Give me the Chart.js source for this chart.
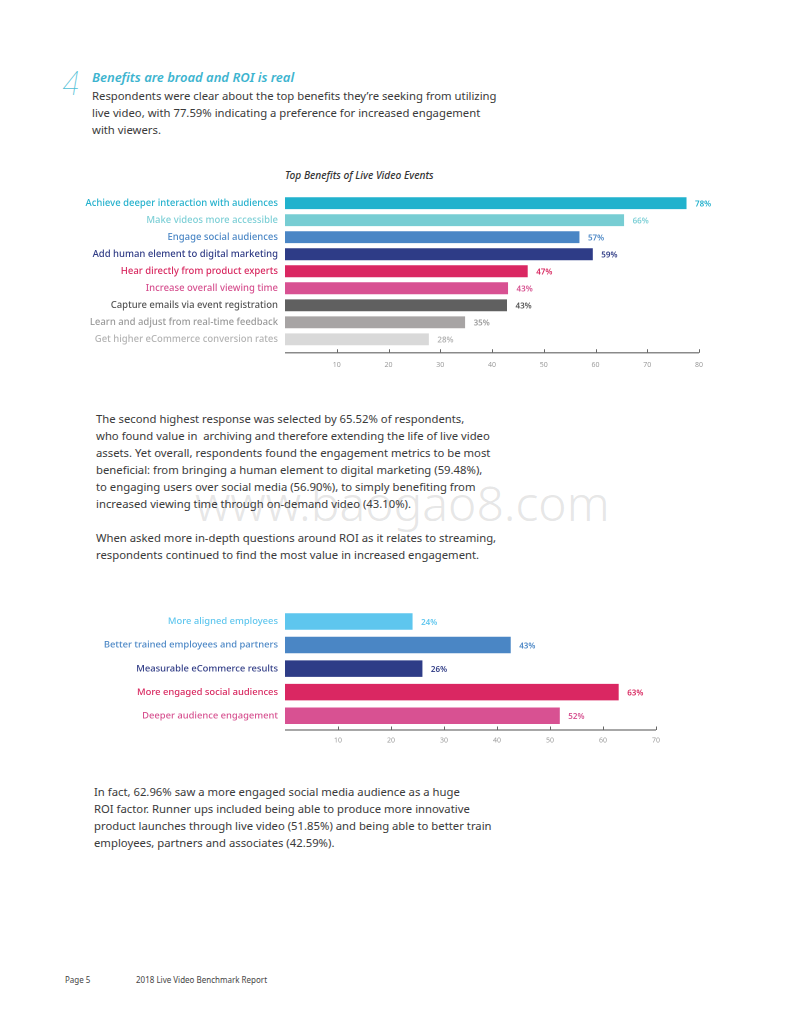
<!DOCTYPE html>
<html>
<head>
<meta charset="utf-8">
<script src="https://cdn.jsdelivr.net/npm/chart.js@4/dist/chart.umd.min.js"></script>
<style>
  html, body { margin:0; padding:0; background:#fff; }
  body { width:800px; height:1036px; position:relative; overflow:hidden; font-family:"Noto Sans", sans-serif; color:#3a3a3a; }
  .abs { position:absolute; white-space:pre; }
  .body { font-size:11.3px; line-height:17px; color:#3a3a3a; }
  canvas { position:absolute; }
</style>
</head>
<body>
<div class="abs" style="left:61px;top:64px;font-size:33px;font-weight:100;font-style:italic;color:#4fc0d6;font-family:'Inter','Lato',sans-serif;line-height:38px;">4</div>
<div class="abs" style="left:92px;top:68px;font-size:13px;font-weight:600;font-style:italic;color:#3db4cf;line-height:18px;">Benefits are broad and ROI is real</div>
<div class="abs body" style="left:92px;top:87px;">Respondents were clear about the top benefits they’re seeking from utilizing
live video, with 77.59% indicating a preference for increased engagement
with viewers.</div>

<div class="abs" style="left:285px;top:168px;font-size:10.2px;font-weight:500;font-style:italic;color:#333;line-height:14px;">Top Benefits of Live Video Events</div>

<canvas id="c1" style="left:60px;top:180px;width:680px;height:200px;"></canvas>

<div class="abs" style="left:195px;top:471px;font-size:48px;font-weight:300;color:rgba(170,170,170,0.3);line-height:63px;">www.baogao8.com</div>

<div class="abs body" style="left:96px;top:410px;">The second highest response was selected by 65.52% of respondents,
who found value in  archiving and therefore extending the life of live video
assets. Yet overall, respondents found the engagement metrics to be most
beneficial: from bringing a human element to digital marketing (59.48%),
to engaging users over social media (56.90%), to simply benefiting from
increased viewing time through on-demand video (43.10%).

When asked more in-depth questions around ROI as it relates to streaming,
respondents continued to find the most value in increased engagement.</div>

<canvas id="c2" style="left:60px;top:590px;width:680px;height:170px;"></canvas>

<div class="abs body" style="left:94px;top:783px;">In fact, 62.96% saw a more engaged social media audience as a huge
ROI factor. Runner ups included being able to produce more innovative
product launches through live video (51.85%) and being able to better train
employees, partners and associates (42.59%).</div>

<div class="abs" style="left:65px;top:974px;font-size:8px;color:#444;line-height:12px;">Page 5</div>
<div class="abs" style="left:136px;top:974px;font-size:8px;color:#444;line-height:12px;">2018 Live Video Benchmark Report</div>

<script>
// ---- Chart 1 data ----
const benefitCategories = [
  'Achieve deeper interaction with audiences',
  'Make videos more accessible',
  'Engage social audiences',
  'Add human element to digital marketing',
  'Hear directly from product experts',
  'Increase overall viewing time',
  'Capture emails via event registration',
  'Learn and adjust from real-time feedback',
  'Get higher eCommerce conversion rates'
];
const benefitValues = [77.59, 65.52, 56.90, 59.48, 46.90, 43.10, 42.90, 34.80, 27.80];
const benefitTicks = [10, 20, 30, 40, 50, 60, 70, 80];
const benefitBarColors = ['#21b2cd', '#77cdd3', '#4a86c5', '#2e3c87', '#da2762', '#d85192', '#606060', '#a7a4a4', '#d9d9d9'];
const benefitLabelColors = ['#22b0cc', '#7ccfd6', '#4a86c5', '#2f3b85', '#d8275f', '#d6508f', '#555555', '#999999', '#b3b3b3'];

// ---- Chart 2 data ----
const roiCategories = [
  'More aligned employees',
  'Better trained employees and partners',
  'Measurable eCommerce results',
  'More engaged social audiences',
  'Deeper audience engagement'
];
const roiValues = [24.07, 42.59, 25.93, 62.96, 51.85];
const roiTicks = [10, 20, 30, 40, 50, 60, 70];
const roiBarColors = ['#5ec6ee', '#4a86c5', '#2e3c87', '#da2762', '#d85192'];
const roiLabelColors = ['#5ec6ee', '#4a86c5', '#2f3b85', '#d8275f', '#d6508f'];

const FONT = '"Noto Sans", sans-serif';

const valueLabelPlugin = {
  id: 'valueLabels',
  afterDatasetsDraw(chart, args, opts) {
    const ctx = chart.ctx;
    const meta = chart.getDatasetMeta(0);
    const data = chart.data.datasets[0].data;
    ctx.save();
    ctx.font = '600 8px ' + FONT;
    ctx.textBaseline = 'middle';
    ctx.textAlign = 'left';
    meta.data.forEach((el, i) => {
      ctx.fillStyle = opts.colors[i];
      ctx.fillText(Math.round(data[i]) + '%', el.x + 8.5, el.y + 1);
    });
    ctx.restore();
  }
};

const axisLinePlugin = {
  id: 'axisLine',
  afterDraw(chart, args, opts) {
    const ctx = chart.ctx;
    const xs = chart.scales.x;
    const y = chart.chartArea.bottom + opts.offset;
    ctx.save();
    ctx.strokeStyle = '#8a8a8a';
    ctx.lineWidth = 1.5;
    ctx.beginPath();
    ctx.moveTo(chart.chartArea.left, y);
    ctx.lineTo(chart.chartArea.right, y);
    ctx.stroke();
    ctx.lineWidth = 1;
    ctx.strokeStyle = '#666';
    xs.ticks.forEach(t => {
      const x = Math.round(xs.getPixelForValue(t.value)) + 0.5;
      ctx.beginPath();
      ctx.moveTo(x, y - 3.5);
      ctx.lineTo(x, y);
      ctx.stroke();
    });
    ctx.restore();
  }
};

function makeChart(id, cats, vals, barColors, labelColors, ticks, maxV, pad, xHeight, tickPad, axisOffset, labelSize) {
  return new Chart(document.getElementById(id), {
    type: 'bar',
    data: {
      labels: cats,
      datasets: [{ data: vals, backgroundColor: barColors, borderWidth: 0, barPercentage: 0.7, categoryPercentage: 1.0 }]
    },
    options: {
      indexAxis: 'y',
      responsive: false,
      animation: false,
      devicePixelRatio: 2,
      layout: { padding: pad },
      plugins: {
        legend: { display: false },
        tooltip: { enabled: false },
        valueLabels: { colors: labelColors },
        axisLine: { offset: axisOffset }
      },
      scales: {
        x: {
          min: 0, max: maxV,
          afterBuildTicks: s => { s.ticks = ticks.map(v => ({ value: v })); },
          afterFit: s => { s.height = xHeight; },
          grid: { display: false, drawTicks: false },
          border: { display: false },
          ticks: { color: '#9a9a9a', font: { family: FONT, size: 7 }, padding: tickPad, maxRotation: 0 }
        },
        y: {
          afterFit: s => { s.width = 225; },
          grid: { display: false, drawTicks: false },
          border: { display: false },
          ticks: {
            padding: 7,
            font: { family: FONT, size: labelSize, weight: 500 },
            color: ctx => labelColors[ctx.index]
          }
        }
      }
    },
    plugins: [valueLabelPlugin, axisLinePlugin]
  });
}

function sizeCanvas(id, w, h) {
  const c = document.getElementById(id);
  c.width = w; c.height = h;
  c.style.width = w + 'px'; c.style.height = h + 'px';
}
sizeCanvas('c1', 680, 200);
sizeCanvas('c2', 680, 170);

makeChart('c1', benefitCategories, benefitValues, benefitBarColors, benefitLabelColors,
  benefitTicks, 80, { top: 14.7, right: 41, left: 0, bottom: 0 }, 32.2, 13, 5, 9.5);
makeChart('c2', roiCategories, roiValues, roiBarColors, roiLabelColors,
  roiTicks, 70, { top: 19.7, right: 84, left: 0, bottom: 0 }, 32.5, 9, 2.5, 9.4);
</script>
</body>
</html>
